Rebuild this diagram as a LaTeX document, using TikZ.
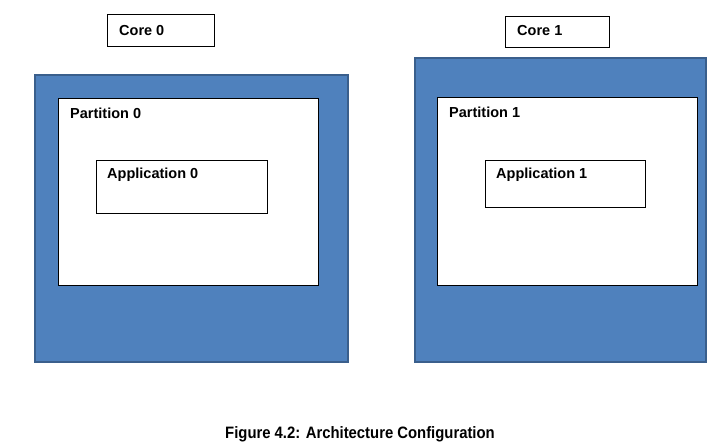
\documentclass[tikz,border=0pt]{standalone}
\usepackage{fontspec}
\setmainfont{Liberation Sans}
\newfontfamily\capfont[FakeStretch=0.9]{Liberation Sans}
\definecolor{officeblue}{HTML}{4F81BD}
\definecolor{officeedge}{HTML}{3A5F8C}
\begin{document}
\begin{tikzpicture}[x=1pt,y=-1pt,
  box/.style={draw=black,line width=1.3pt,fill=white,anchor=north west,inner sep=0pt},
  bluebox/.style={draw=officeedge,line width=1.5pt,fill=officeblue,anchor=north west,inner sep=0pt},
  lbl/.style={anchor=west,font=\bfseries\fontsize{14.5}{16}\selectfont,inner sep=0pt}]
\useasboundingbox (0,0) rectangle (726,447);
\fill[white] (0,0) rectangle (726,447);
% Core 0 side
\node[box,minimum width=107pt,minimum height=32pt] (core0) at (107,14) {};
\node[lbl] (core0t) at (119,31) {Core 0};
\node[bluebox,minimum width=313pt,minimum height=287pt] (blue0) at (34,74) {};
\node[box,minimum width=260pt,minimum height=187pt] (part0) at (58,98) {};
\node[lbl] (part0t) at (70,113) {Partition 0};
\node[box,minimum width=171pt,minimum height=53pt] (app0) at (96,160) {};
\node[lbl] (app0t) at (107,175) {Application 0};
% Core 1 side
\node[box,minimum width=104pt,minimum height=31pt] (core1) at (505,16) {};
\node[lbl] (core1t) at (517,31) {Core 1};
\node[bluebox,minimum width=291pt,minimum height=304pt] (blue1) at (414,57) {};
\node[box,minimum width=260pt,minimum height=188pt] (part1) at (437,97) {};
\node[lbl] (part1t) at (449,112) {Partition 1};
\node[box,minimum width=160pt,minimum height=47pt] (app1) at (485,160) {};
\node[lbl] (app1t) at (496,175) {Application 1};
% caption
\node[font=\capfont\bfseries\fontsize{16.5}{18}\selectfont,inner sep=0pt] (cap) at (360,434) {Figure 4.2: Architecture Configuration};
\end{tikzpicture}
\end{document}
